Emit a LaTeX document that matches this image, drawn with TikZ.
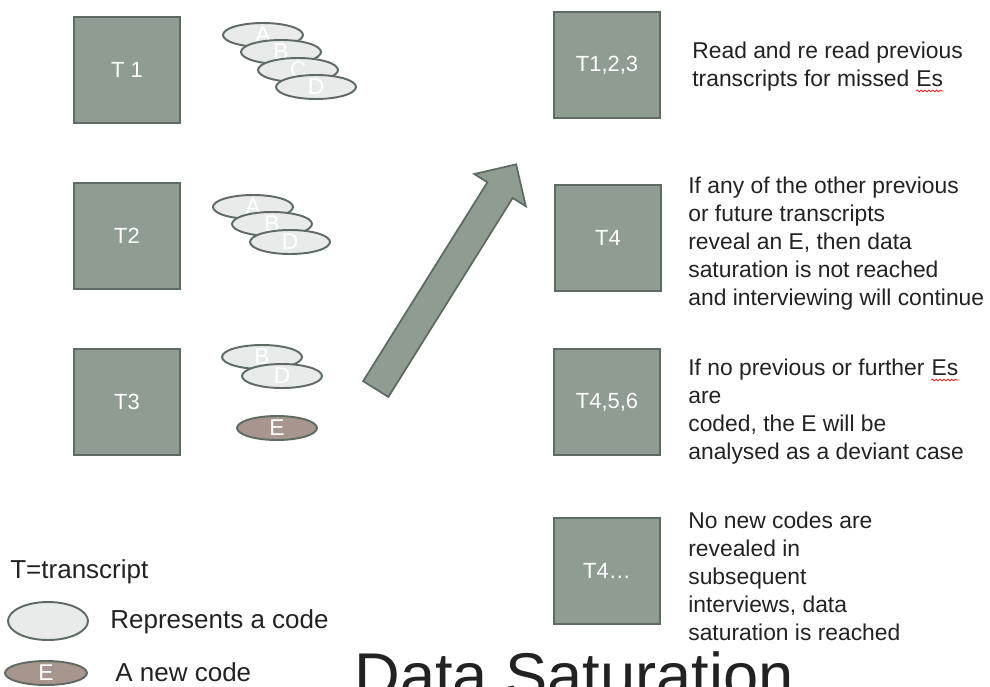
\documentclass[tikz,border=0pt]{standalone}
\usepackage{fontspec}
\setmainfont{Liberation Sans}
\usetikzlibrary{shapes.geometric,shapes.arrows,decorations.pathmorphing}
\definecolor{boxfill}{RGB}{142,156,145}
\definecolor{boxline}{RGB}{94,107,98}
\definecolor{codefill}{RGB}{233,235,234}
\definecolor{newfill}{RGB}{168,150,142}
\definecolor{ink}{RGB}{34,34,34}
\newcommand{\wavy}[1]{\tikz[baseline=(w.base)]{\node[anchor=base,inner sep=0pt,align=center] (w) {#1};
\draw[red,line width=0.4pt,decorate,decoration={snake,amplitude=0.5pt,segment length=2.2pt}] ([yshift=-2pt]w.south west) -- ([yshift=-2pt]w.south east);}}

\begin{document}
\begin{tikzpicture}[x=0.02cm,y=-0.02cm,
  tbox/.style={draw=boxline,fill=boxfill,line width=1.2pt,minimum width=2.12cm,minimum height=2.12cm,inner sep=0pt,text=white,font=\fontsize{12.5}{15}\selectfont},
  code/.style={ellipse,draw=boxline,fill=codefill,line width=1.1pt,minimum width=1.6cm,minimum height=0.48cm,inner sep=0pt,text=white,font=\fontsize{13}{15}\selectfont},
  newcode/.style={code,fill=newfill},
  note/.style={anchor=north west,align=left,inner sep=0pt,text=ink,font=\fontsize{13}{15.9}\selectfont},
  legend/.style={anchor=west,inner sep=0pt,text=ink,font=\fontsize{14.8}{18}\selectfont}]
\useasboundingbox (0,0) rectangle (990,686);

% transcripts and their codes
\node[tbox] (t1) at (127,70) {T 1};
\node[tbox] (t2) at (127,236) {T2};
\node[tbox] (t3) at (127,402) {T3};

\node[code] (t1a) at (263,35) {A};
\node[code] (t1b) at (281,52) {B};
\node[code] (t1c) at (298,70) {C};
\node[code] (t1d) at (316,87) {D};

\node[code] (t2a) at (253,207) {A};
\node[code] (t2b) at (272,224) {B};
\node[code] (t2d) at (290,242) {D};

\node[code] (t3b) at (262,357) {B};
\node[code] (t3d) at (282,376) {D};
\node[newcode] (t3e) at (277,428) {E};

% big arrow
\node[single arrow,draw=boxline,fill=boxfill,line width=1pt,minimum height=5.3cm,
  single arrow head extend=0.31cm,inner sep=0.28cm,rotate=58] (up) at (442,283) {};

% right column
\node[tbox] (t123) at (607,65) {T1,2,3};
\node[tbox] (t4) at (608,238) {T4};
\node[tbox] (t456) at (607,402) {T4,5,6};
\node[tbox] (t4more) at (607,571) {T4\dots};

\node[note] (n1) at (692,42) {Read and re read previous\\transcripts for missed \wavy{Es}};
\node[note] (n2) at (688,177) {If any of the other previous\\or future transcripts\\reveal an E, then data\\saturation is not reached\\and interviewing will continue};
\node[note] (n3) at (688,359) {If no previous or further \wavy{Es}\\are\\coded, the E will be\\analysed as a deviant case};
\node[note] (n4) at (688,512) {No new codes are\\revealed in\\subsequent\\interviews, data\\saturation is reached};

% key
\node[legend] (key) at (10,572) {T=transcript};
\node[code,minimum height=0.76cm] (keycode) at (48,621) {};
\node[legend] (keycodetxt) at (110,622) {Represents a code};
\node[newcode,minimum width=1.64cm] (keynew) at (46,673) {E};
\node[legend] (keynewtxt) at (115,672) {A new code};

\node[anchor=base west,inner sep=0pt,text=ink,font=\fontsize{36}{40}\selectfont] (title) at (354,697) {Data Saturation};
\end{tikzpicture}
\end{document}
